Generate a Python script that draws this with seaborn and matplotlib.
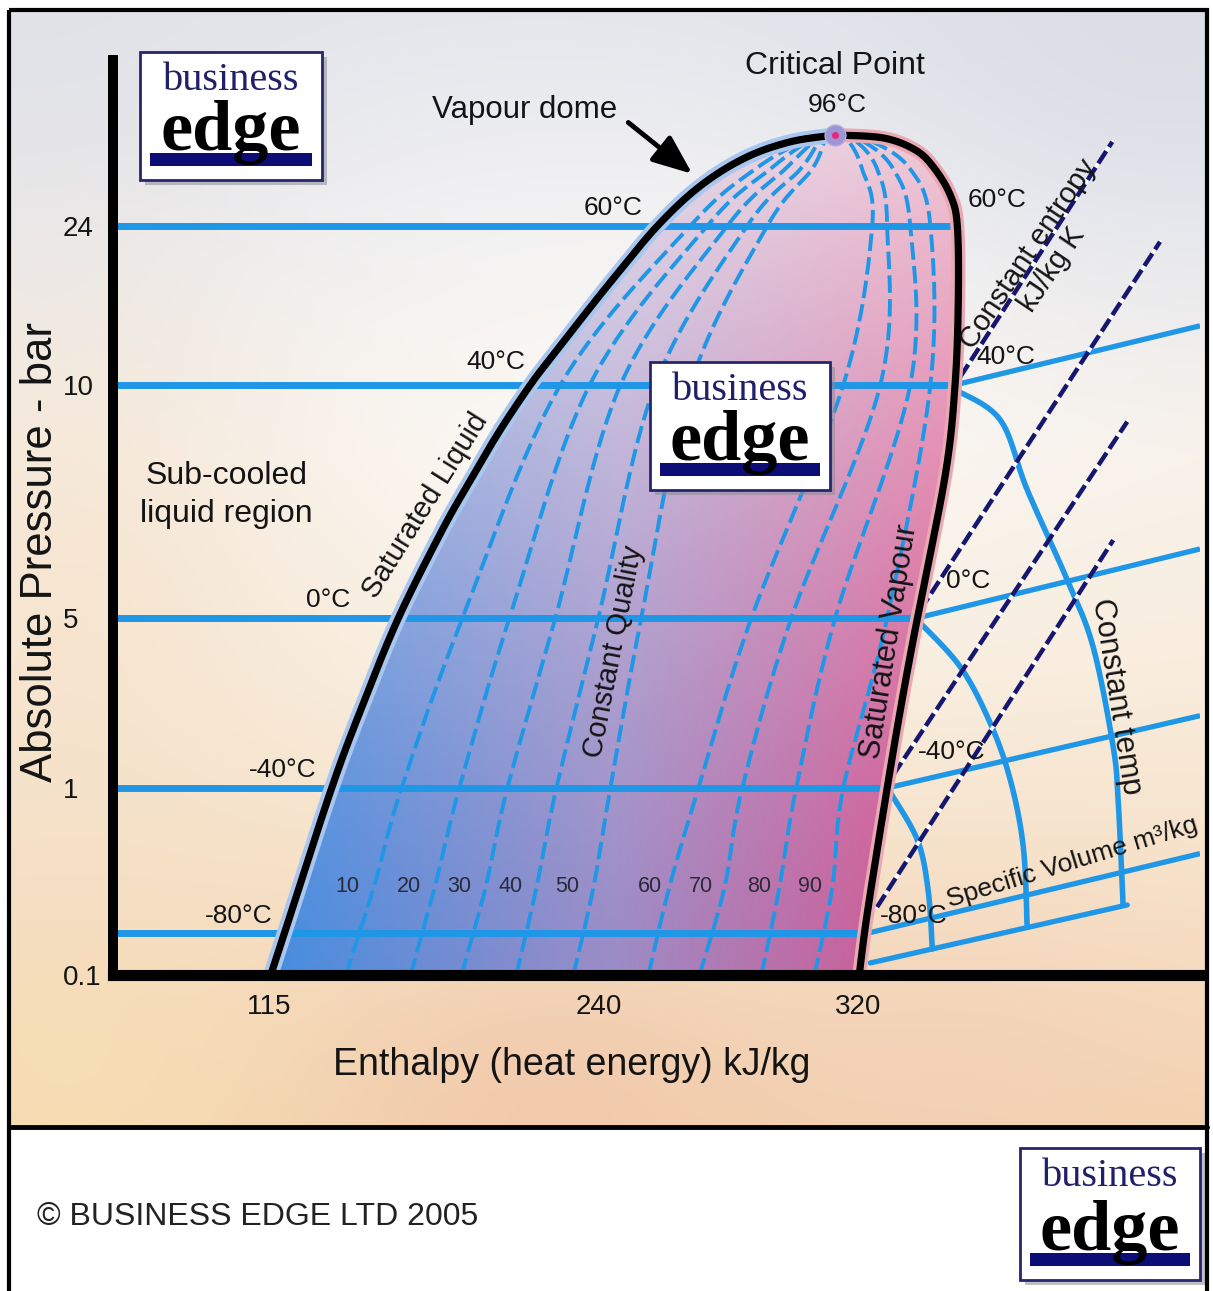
import numpy as np
import matplotlib
matplotlib.use("Agg")
import matplotlib.pyplot as plt
import seaborn as sns
from matplotlib.patches import Polygon, Rectangle
from matplotlib.colors import to_rgb

# scale knots: the chart is hand drawn, so both axes are piecewise linear
H_KNOTS = [56, 240, 427]
H_STEPS = [0, 485, 1092]
P_KNOTS = [0.1, 1, 5, 10, 24]
P_STEPS = [0, 187, 357, 590, 749]

X_TICKS = [115, 240, 320]
Y_TICKS = [0.1, 1, 5, 10, 24]
Y_TICK_LABELS = ['0.1', '1', '5', '10', '24']

# vapour dome (enthalpy kJ/kg, pressure bar)
SAT_LIQ_H = [115.8, 120.7, 138.9, 151.4, 164.2, 180.2, 190.0, 202.1, 214.2,
             221.4, 233.2, 244.3, 258.2, 271.4, 285.2, 299.1, 312.9]
SAT_LIQ_P = [0.1, 0.29, 1.0, 3.07, 5.0, 6.82, 7.81, 8.97, 10.0,
             12.2, 15.72, 19.25, 24.0, 27.52, 29.99, 31.4, 32.0]
SAT_VAP_H = [312.9, 327.7, 337.5, 343.1, 348.3, 350.5, 350.8, 349.8, 346.8,
             338.2, 333.5, 328.9, 322.8, 320.3]
SAT_VAP_P = [32.0, 31.74, 30.69, 29.19, 26.73, 24.0, 17.48, 10.0, 8.07,
             5.0, 3.07, 1.0, 0.4, 0.1]
CRIT_H, CRIT_P = 312.9, 32.0

# isotherms
ISO_LABELS = ['-80°C', '-40°C', '0°C', '40°C', '60°C']
ISO_P = [0.3, 1, 5, 10, 24]
ISO_H_SAT = [322.6, 328.9, 338.2, 349.8, 350.5]
SUPER_P_END = [0.684, 2.70, 6.48, 15.2]
LOW_H = [323.7, 402.8]
LOW_P = [0.158, 0.437]

# constant temp arcs in the superheated region
ARC_OUTER_H = [349.8, 363.7, 372.0, 384.3, 392.3, 398.5, 400.0, 401.2, 401.5]
ARC_OUTER_P = [9.9, 9.25, 7.75, 5.82, 4.32, 1.96, 0.94, 0.557, 0.437]
ARC_MID_H = [338.2, 351.4, 360.6, 366.8, 370.8, 372.0]
ARC_MID_P = [4.95, 3.85, 2.53, 1.19, 0.716, 0.33]
ARC_IN_H = [329.8, 338.2, 341.5, 342.8]
ARC_IN_P = [0.98, 0.75, 0.509, 0.225]

# constant entropy lines (start, end)
ENT_H0 = [351.4, 339.1, 330.8, 325.8]
ENT_P0 = [10.7, 5.17, 1.31, 0.427]
ENT_H1 = [398.2, 412.9, 402.8, 398.5]
ENT_P1 = [31.4, 22.6, 9.21, 6.67]

# constant quality lines
Q_LEVELS = ['10', '20', '30', '40', '50', '60', '70', '80', '90']
Q_P = [0.1, 0.52, 1.0, 5.0, 10, 24, 29, 31.5, 32]
Q_H = [
    [144.2, 154.8, 165.4, 188.5, 225.6, 268.3, 288.3, 303.7, 312.9],
    [168.8, 177.9, 187.3, 206.3, 236.7, 273.5, 292.9, 305.2, 312.9],
    [188.1, 197.2, 205.5, 223.7, 246.8, 279.7, 297.5, 306.8, 312.9],
    [208.9, 216.5, 224.1, 240.0, 257.5, 285.8, 302.2, 308.3, 312.9],
    [230.5, 238.1, 243.7, 253.2, 268.3, 292.0, 305.8, 309.8, 312.9],
    [255.4, 261.8, 270.8, 287.1, 315.4, 324.3, 321.2, 316.9, 312.9],
    [271.1, 278.8, 284.3, 299.4, 326.8, 328.9, 325.8, 319.1, 312.9],
    [290.2, 295.7, 300.9, 312.9, 336.0, 336.0, 330.8, 321.2, 312.9],
    [306.5, 312.0, 315.4, 328.9, 342.2, 342.2, 336.0, 323.7, 312.9],
]
Q_LABEL_H = [144.9, 168.0, 187.3, 206.7, 228.3, 256.0, 271.7, 289.5, 305.2]
Q_LABEL_P = 0.524

BLUE = '#1f97e6'
NAVY = '#16166e'
INK = '#141414'


def piecewise(knots, steps):
    k = np.asarray(knots, float)
    s = np.asarray(steps, float)
    lo = (s[1] - s[0]) / (k[1] - k[0])
    hi = (s[-1] - s[-2]) / (k[-1] - k[-2])

    def fwd(v):
        v = np.asarray(v, float)
        out = np.interp(v, k, s)
        out = np.where(v < k[0], s[0] + (v - k[0]) * lo, out)
        return np.where(v > k[-1], s[-1] + (v - k[-1]) * hi, out)

    def inv(u):
        u = np.asarray(u, float)
        out = np.interp(u, s, k)
        out = np.where(u < s[0], k[0] + (u - s[0]) / lo, out)
        return np.where(u > s[-1], k[-1] + (u - s[-1]) / hi, out)
    return fwd, inv


def smooth(ax, h, p, n=16):
    # catmull-rom through the points, done on screen so curves look round
    pts = ax.transData.transform(np.column_stack([h, p]))
    P = np.vstack([pts[0], pts, pts[-1]])
    t = np.linspace(0, 1, n, endpoint=False)[:, None]
    segs = []
    for i in range(1, len(P) - 2):
        p0, p1, p2, p3 = P[i - 1], P[i], P[i + 1], P[i + 2]
        segs.append(0.5 * (2 * p1 + (-p0 + p2) * t
                           + (2 * p0 - 5 * p1 + 4 * p2 - p3) * t ** 2
                           + (-p0 + 3 * p1 - 3 * p2 + p3) * t ** 3))
    segs.append(P[-2][None])
    out = ax.transData.inverted().transform(np.vstack(segs))
    return out[:, 0], out[:, 1]


def blend(u, stops, colors):
    c = np.array([to_rgb(x) for x in colors])
    return np.stack([np.interp(u, stops, c[:, k]) for k in range(3)], axis=-1)


def draw_logo(axl, x0, y0, w, h):
    axl.add_patch(Rectangle((x0 + 5, y0 + 5), w, h, facecolor='#8c8c98', alpha=0.55,
                            edgecolor='none', zorder=20))
    axl.add_patch(Rectangle((x0, y0), w, h, facecolor='white', edgecolor='#26266e',
                            lw=2, zorder=21))
    axl.add_patch(Rectangle((x0 + 10, y0 + h - 27), w - 20, 13, facecolor='#0d0d78',
                            edgecolor='none', zorder=22))
    axl.text(x0 + w / 2, y0 + 38, 'business', ha='center', va='baseline',
             family=['Liberation Serif', 'DejaVu Serif'], fontsize=29, color='#1f1f6a', zorder=23)
    axl.text(x0 + w / 2, y0 + h - 30, 'edge', ha='center', va='baseline',
             family=['Liberation Serif', 'DejaVu Serif'], weight='bold', fontsize=52,
             color='black', zorder=23)


sns.set_theme(style='white')
plt.rcParams['font.family'] = ['Liberation Sans', 'DejaVu Sans']

fig = plt.figure(figsize=(12.13, 12.91), dpi=100)
ax_bg = fig.add_axes([0, 0, 1, 1], zorder=0)
ax = fig.add_axes([113 / 1213, 316 / 1291, 1087 / 1213, 915 / 1291], zorder=1)
ax_top = fig.add_axes([0, 0, 1, 1], zorder=2)
for a in (ax_bg, ax_top):
    a.set_xlim(0, 1213)
    a.set_ylim(1291, 0)
    a.set_axis_off()
ax_top.patch.set_alpha(0)

# background panel
ny, nx = 240, 240
yy = np.linspace(0, 1, ny)[:, None]
xx = np.linspace(0, 1, nx)[None, :]
bg = blend(np.repeat(yy, nx, axis=1), [0, .18, .4, .6, .8, 1],
           ['#e4e6ec', '#eeeef1', '#f8f2ea', '#f8ecdc', '#f6e0c6', '#f4d3b0'])
for cx, cy, sx, sy, col, amt in [(0.95, 0.05, 0.08, 0.04, '#d4d8e2', 0.6),
                                 (0.02, 0.05, 0.05, 0.05, '#dcdfe6', 0.5),
                                 (0.55, 0.35, 0.10, 0.05, '#fdfbf8', 0.6),
                                 (0.05, 0.55, 0.03, 0.10, '#f4dcc0', 0.5),
                                 (0.45, 0.98, 0.04, 0.02, '#f0c4a8', 0.6),
                                 (0.05, 0.98, 0.04, 0.02, '#f6e2b4', 0.6),
                                 (0.80, 0.95, 0.03, 0.02, '#f2cdb8', 0.4)]:
    g = amt * np.exp(-((xx - cx) ** 2 / sx + (yy - cy) ** 2 / sy))[..., None]
    bg = bg * (1 - g) + np.array(to_rgb(col)) * g
ax_bg.imshow(bg, extent=(9, 1207, 1127, 10), origin='upper', aspect='auto',
             interpolation='bilinear', zorder=0)
ax_bg.add_patch(Rectangle((9, 1127), 1198, 170, facecolor='white', edgecolor='none', zorder=1))

# main chart axes
ax.set_xscale('function', functions=piecewise(H_KNOTS, H_STEPS))
ax.set_yscale('function', functions=piecewise(P_KNOTS, P_STEPS))
ax.set_xlim(56, 425.2)
ax.set_ylim(0.1, 38.6)
ax.patch.set_alpha(0)

lh, lp = smooth(ax, SAT_LIQ_H, SAT_LIQ_P)
vh, vp = smooth(ax, SAT_VAP_H, SAT_VAP_P)
dome_xy = np.column_stack([np.r_[lh, vh], np.r_[lp, vp]])
dome = Polygon(dome_xy, closed=True, fill=False, edgecolor='none')
ax.add_patch(dome)

# colour wash inside the dome
pts = ax.transAxes.inverted().transform(ax.transData.transform(dome_xy))
FX, FY = np.meshgrid(np.linspace(0, 1, 400), np.linspace(0, 1, 300))
u = np.clip((FX - pts[:, 0].min()) / np.ptp(pts[:, 0]), 0, 1)
v = np.clip((FY - pts[:, 1].min()) / np.ptp(pts[:, 1]), 0, 1)
low = blend(u, [0, 0.5, 1], ['#468de0', '#9c8cc6', '#da528c'])
high = blend(u, [0, 0.5, 1], ['#c4d4f0', '#e4deec', '#f0c8d6'])
t = (v ** 1.4)[..., None]
wash = low * (1 - t) + high * t
im = ax.imshow(wash, extent=(0, 1, 0, 1), transform=ax.transAxes, origin='lower',
               aspect='auto', interpolation='bilinear', zorder=1)
im.set_clip_path(dome)

# constant quality
for row in Q_H:
    qh, qp = smooth(ax, row, Q_P)
    ax.plot(qh, qp, color=BLUE, lw=2.8, dashes=(4.5, 1.6), zorder=2)
for lab, qx in zip(Q_LEVELS, Q_LABEL_H):
    ax.text(qx, Q_LABEL_P, lab, ha='center', va='center', fontsize=15.5,
            color='#2a2a3a', zorder=9)

# isotherms across the chart
for p, hs in zip(ISO_P, ISO_H_SAT):
    sns.lineplot(x=[56, hs], y=[p, p], color=BLUE, lw=5, ax=ax, zorder=3)
for p, hs, pe in zip(ISO_P, ISO_H_SAT, SUPER_P_END):
    ax.plot([hs, 425.2], [p, pe], color=BLUE, lw=3.8, zorder=3, solid_capstyle='butt')
ax.plot(LOW_H, LOW_P, color=BLUE, lw=3.8, zorder=3)
for ah, ap in [(ARC_OUTER_H, ARC_OUTER_P), (ARC_MID_H, ARC_MID_P), (ARC_IN_H, ARC_IN_P)]:
    sh, sp = smooth(ax, ah, ap)
    ax.plot(sh, sp, color=BLUE, lw=4.0, zorder=3)

# constant entropy
for h0, p0, h1, p1 in zip(ENT_H0, ENT_P0, ENT_H1, ENT_P1):
    ax.plot([h0, h1], [p0, p1], color='white', lw=2.6, zorder=4)
    ax.plot([h0, h1], [p0, p1], color=NAVY, lw=3.2, dashes=(3.3, 1.1), zorder=4)

# dome outline
ax.plot(lh, lp, color='#a9c6ee', lw=11, zorder=5)
ax.plot(vh, vp, color='#eaa9b2', lw=10, zorder=5)
sns.lineplot(x=lh, y=lp, sort=False, estimator=None, color='black', lw=5.2, ax=ax, zorder=6)
sns.lineplot(x=vh, y=vp, sort=False, estimator=None, color='black', lw=5.2, ax=ax, zorder=6)
ax.plot([CRIT_H], [CRIT_P], 'o', ms=15, color='#9d95d6', mec='#b3acdf', zorder=7)
ax.plot([CRIT_H], [CRIT_P], 'o', ms=4, color='#e8287a', zorder=8)


def label(h, p, s, size=19, rot=0, **kw):
    ax.text(h, p, s, fontsize=size, rotation=rot, ha='center', va='center',
            rotation_mode='anchor', color=INK, zorder=9, **kw)


label(312.9, 38.09, 'Critical Point', 23)
label(313.5, 34.65, '96°C', 19)
label(212.0, 34.2, 'Vapour dome', 22.5)
ax.annotate('', xy=(268.9, 28.58), xytext=(249.2, 33.1), zorder=9,
            arrowprops=dict(arrowstyle='-|>,head_length=1.1,head_width=0.45', lw=3.5,
                            color='black', mutation_scale=22, shrinkA=0, shrinkB=0))
for s, h, p in zip(ISO_LABELS, [103.6, 120.3, 137.7, 201.0, 244.6],
                   [0.384, 1.42, 5.39, 12.03, 25.58]):
    label(h, p, s)
for s, h, p in zip(ISO_LABELS, [337.2, 348.9, 353.8, 365.5, 362.8],
                   [0.384, 1.85, 5.79, 12.47, 26.29]):
    label(h, p, s)
label(174.5, 7.42, 'Saturated Liquid', 21, 58)
label(244.9, 4.2, 'Constant Quality', 21, 79)
label(329.8, 4.44, 'Saturated Vapour', 22, 81)
label(376.0, 20.83, 'Constant entropy\nkJ/kg K', 21, 56, linespacing=1.0)
label(399.4, 3.14, 'Constant temp', 22, -81)
label(385.8, 0.644, 'Specific Volume m³/kg', 19, 17)
label(99.1, 7.64, 'Sub-cooled\nliquid region', 23, linespacing=1.35)

# axes
for s in ['top', 'right']:
    ax.spines[s].set_visible(False)
ax.spines['left'].set(lw=7.2, color='black', capstyle='projecting', zorder=10)
ax.spines['bottom'].set(lw=8, color='black', capstyle='projecting', zorder=10)
ax.set_xticks(X_TICKS, [str(x) for x in X_TICKS])
ax.set_yticks(Y_TICKS, Y_TICK_LABELS)
ax.minorticks_off()
ax.tick_params(length=0, colors=INK, labelsize=20)
ax.tick_params(axis='y', pad=36)
ax.tick_params(axis='x', pad=14)
for lab in ax.get_yticklabels():
    lab.set_ha('left')
ax.set_xlabel('Enthalpy (heat energy) kJ/kg', fontsize=27, color=INK)
ax.xaxis.label.set_va('center')
ax.xaxis.set_label_coords(0.422, -0.098)
ax.set_ylabel('Absolute Pressure - bar', fontsize=31.5, color=INK)
ax.yaxis.label.set_va('center')
ax.yaxis.set_label_coords(-0.067, 0.462)
ax.grid(False)
ax.set_xlim(56, 425.2)
ax.set_ylim(0.1, 38.6)

# frame, footer and logos
ax_top.add_patch(Rectangle((9, 10), 1198, 1300, fill=False, edgecolor='black', lw=3, zorder=30))
ax_top.plot([9, 1207], [1127, 1127], color='black', lw=3.5, zorder=30)
ax_top.text(37, 1217, '© BUSINESS EDGE LTD 2005', ha='left', va='center', fontsize=23,
            color='#222222')
draw_logo(ax_top, 140, 52, 182, 128)
draw_logo(ax_top, 650, 362, 180, 128)
draw_logo(ax_top, 1020, 1148, 180, 132)

fig.savefig('out.png', dpi=100)
